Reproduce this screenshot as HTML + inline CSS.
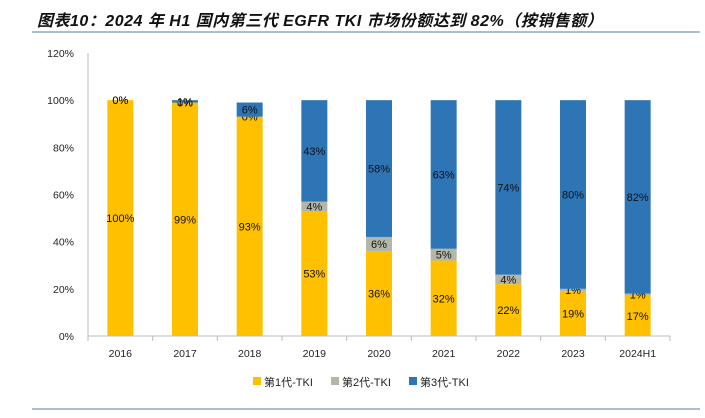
<!DOCTYPE html>
<html><head><meta charset="utf-8"><style>
body{margin:0;background:#fff;width:705px;height:413px;overflow:hidden;font-family:"Liberation Sans","Noto Sans CJK SC",sans-serif}
svg text{font-family:"Liberation Sans","Noto Sans CJK SC",sans-serif}
</style></head><body>
<svg id="c" width="705" height="413">
<text x="37" y="26" font-size="16" font-weight="bold" font-style="italic" fill="#111" letter-spacing="0.5">图表10：2024 年 H1 国内第三代 EGFR TKI 市场份额达到 82%（按销售额）</text>
<line x1="32" y1="32" x2="700" y2="32" stroke="#8ea9c1" stroke-width="1.5"/>
<line x1="32" y1="409" x2="700" y2="409" stroke="#8ea9c1" stroke-width="1.5"/>
<g id="plot"></g>
</svg>
<script>
const categories=["2016","2017","2018","2019","2020","2021","2022","2023","2024H1"];
const gen1=[100,99,93,53,36,32,22,19,17];
const gen2=[0,0,0,4,6,5,4,1,1];
const gen3=[0,1,6,43,58,63,74,80,82];
const yTicks=[0,20,40,60,80,100,120];
const X0=88,X1=670,Y0=336,Ytop=53;
const y=v=>Y0-(v/120)*(Y0-Ytop);
const bw=(X1-X0)/categories.length;
const xc=i=>X0+bw*(i+0.5);
const NS="http://www.w3.org/2000/svg";
const g=document.getElementById('plot');
function mk(t,a){const e=document.createElementNS(NS,t);for(const k in a)e.setAttribute(k,a[k]);g.appendChild(e);return e;}
yTicks.forEach(v=>{const t=mk('text',{x:X0-14,y:y(v)+4,'font-size':10.5,'text-anchor':'end',fill:'#222'});t.textContent=v+'%';

});
const ax=mk('line',{x1:X0,y1:Y0,x2:X1,y2:Y0,stroke:'#bbb'});


const ay=mk('line',{x1:X0,y1:Ytop,x2:X0,y2:Y0,stroke:'#bbb'});


for(let i=0;i<=categories.length;i++){const l=mk('line',{x1:X0+bw*i,y1:Y0,x2:X0+bw*i,y2:Y0+5,stroke:'#bbb'});

}
const series=[[gen1,'#ffc000','gen1'],[gen2,'#b4b6a8','gen2'],[gen3,'#2e75b6','gen3']];
categories.forEach((c,i)=>{
 let base=0;
 series.forEach(([arr,col,nm])=>{
  const v=arr[i];
  const r=mk('rect',{x:xc(i)-13,y:y(base+v),width:26,height:Math.max(0,y(base)-y(base+v)),fill:col});
  
  
  const t=mk('text',{x:xc(i),y:y(base+v/2)+4,'font-size':11,'text-anchor':'middle',fill:'#111'});
  t.textContent=v+'%';
  
  
  base+=v;
 });
 const t=mk('text',{x:xc(i),y:Y0+21,'font-size':10.5,'text-anchor':'middle',fill:'#222'});t.textContent=c;
 
 
});
const leg=[['第1代-TKI','#ffc000',253],['第2代-TKI','#b4b6a8',331],['第3代-TKI','#2e75b6',409]];
leg.forEach(([n,col,x])=>{
 const r=mk('rect',{x:x,y:377,width:8,height:8,fill:col});
 
 
 const t=mk('text',{x:x+11,y:386,'font-size':11,fill:'#222'});t.textContent=n;
 
 
});
</script>
</body></html>
